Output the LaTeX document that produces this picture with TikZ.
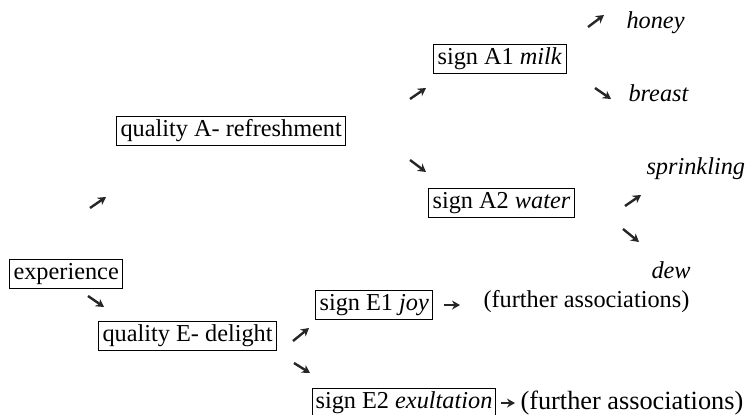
\documentclass[tikz,border=0pt]{standalone}
\usepackage{fontspec}
\setmainfont{Liberation Serif}
\usetikzlibrary{arrows.meta}

\tikzset{
  box/.style={draw, line width=1.1pt, anchor=north west, inner xsep=4pt, inner ysep=3.5pt,
              text height=16.5pt, text depth=5.5pt},
  word/.style={anchor=base west},
  fat/.style={line width=2.4pt, black!85, -{Stealth[length=8pt,width=9pt]}}
}

\begin{document}
\begin{tikzpicture}[x=1pt, y=-1pt, font=\fontsize{24.3}{29}\selectfont]
\useasboundingbox (0,0) rectangle (745,415);

\node[box] (qa)    at (116,116) {quality A- refreshment};
\node[box] (milk)  at (433,44)  {sign A1 \textit{milk}};
\node[box] (water) at (428,188) {sign A2 \textit{water}};
\node[box] (exp)   at (9,259)   {experience};
\node[box] (joy)   at (315,290) {sign E1 \textit{joy}};
\node[box] (qe)    at (98,321)  {quality E- delight};
\node[box, inner xsep=3pt] (exu) at (312,388) {sign E2 \textit{exultation}};

\node[word] (honey)  at (623,28)  {\textit{honey}};
\node[word] (breast) at (625,101) {\textit{breast}};
\node[word] (sprink) at (643,174) {\textit{sprinkling}};
\node[word] (dew)    at (648,278) {\textit{dew}};
\node[word] (fa1)    at (480,307) {(further associations)};
\node[word, font=\fontsize{26.3}{31}\selectfont] (fa2) at (517,409) {(further associations)};

% small diagonal arrows
\foreach \n/\x/\y/\dy in {hon/588/27/-12, mil/410/99/-11, bre/595/88/11, qua/90/208/-11,
                          wat/410/160/12, spr/625/206/-11, dew/623/229/13,
                          del/88/296/11, joy/293/341/-13, exu/294/363/10}
	{\coordinate (t-\n) at (\x,\y);
	 \draw[fat] (t-\n) -- ++(16,\dy);}

\draw[fat, shorten <=11pt, shorten >=20pt] (joy.east) -- (joy.east -| fa1.west);
\draw[fat, shorten <=5pt, shorten >=2pt] (exu.east) -- (exu.east -| fa2.west);
\end{tikzpicture}
\end{document}
